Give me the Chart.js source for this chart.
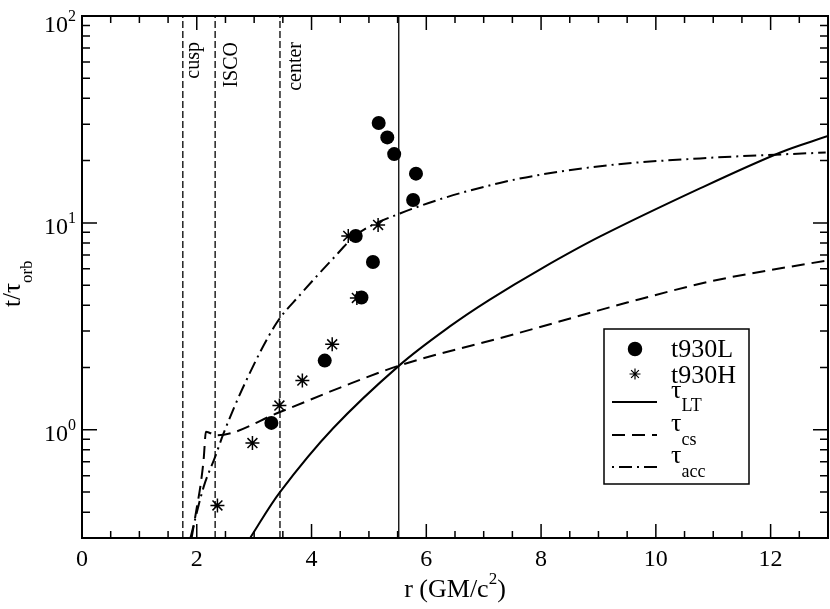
<!DOCTYPE html>
<html>
<head>
<meta charset="utf-8">
<script src="https://cdn.jsdelivr.net/npm/chart.js@4"></script>
<style>
  body { margin: 0; background: #fff; }
  #wrap { width: 830px; height: 609px; }
</style>
</head>
<body>
<div id="wrap"><canvas id="c" width="830" height="609"></canvas></div>
<script>
// r (GM/c^2) and t/tau_orb values
var lowX  = [3.30, 4.23, 4.77, 4.87, 5.07, 5.17, 5.32, 5.44, 5.77, 5.82]
var lowY  = [1.08, 2.16, 8.65, 4.36, 6.47, 30.4, 25.9, 21.5, 12.9, 17.3]
var highX = [2.36, 2.97, 3.44, 3.84, 4.36, 4.64, 4.79, 5.16]
var highY = [0.431, 0.863, 1.31, 1.73, 2.59, 8.65, 4.34, 9.78]

var ltX  = [2.93, 3.45, 4.38, 5.54, 6.41, 7.10, 8.00, 9.03, 10.75, 12.17, 13.0]
var ltY  = [0.30, 0.50, 1.02, 2.06, 3.16, 4.25, 6.00, 8.60, 14.6, 21.9, 26.3]
var csX  = [1.91, 2.00, 2.07, 2.12, 2.16, 2.34, 3.45, 4.50, 5.52, 7.50, 9.50, 11.0, 13.0]
var csY  = [0.30, 0.42, 0.55, 0.72, 0.98, 0.94, 1.22, 1.60, 2.04, 2.88, 4.12, 5.25, 6.60]
var accX = [1.89, 2.12, 2.32, 2.46, 2.84, 3.39, 3.80, 4.38, 4.78, 5.54, 7.28, 9.03, 10.77, 12.96]
var accY = [0.30, 0.53, 0.74, 0.95, 1.68, 3.28, 4.49, 6.75, 8.75, 11.1, 15.6, 18.8, 20.5, 21.9]

// marker radii
var markX     = [1.757, 2.32, 3.45]
var markNames = ['cusp', 'ISCO', 'center']
var rLine     = 5.52

var yMin = 0.3, yMax = 100, xMin = 0, xMax = 13
var xTickLabels = ['0', '2', '4', '6', '8', '10', '12']
var yDecades = [0, 1, 2]

function pts(xs, ys) {
  return xs.map(function (v, i) { return {x: v, y: ys[i]} })
}
function vline(v) {
  return [{x: v, y: yMin}, {x: v, y: yMax}]
}

var serif = '"Liberation Serif", "DejaVu Serif", serif'

// draws a run of text pieces [text, size, baseline shift]
function rich(ctx, parts, x, y) {
  parts.forEach(function (p) {
    ctx.font = p[1] + 'px ' + serif
    ctx.fillText(p[0], x, y + p[2])
    x += ctx.measureText(p[0]).width
  })
  return x
}
function richWidth(ctx, parts) {
  var w = 0
  parts.forEach(function (p) {
    ctx.font = p[1] + 'px ' + serif
    w += ctx.measureText(p[0]).width
  })
  return w
}

var decor = {
  id: 'decor',
  afterDraw: function (chart) {
    var ctx = chart.ctx, a = chart.chartArea
    var xs = chart.scales.x, ys = chart.scales.y
    ctx.save()
    ctx.fillStyle = '#000'
    ctx.strokeStyle = '#000'

    // ticks inside the frame
    ctx.lineWidth = 1.5
    ctx.beginPath()
    for (var v = xMin; v <= xMax + 1e-9; v += 0.5) {
      var px = xs.getPixelForValue(v)
      var len = (v % 2 === 0) ? 14 : 7
      ctx.moveTo(px, a.bottom); ctx.lineTo(px, a.bottom - len)
      ctx.moveTo(px, a.top); ctx.lineTo(px, a.top + len)
    }
    for (var k = -1; k <= 2; k++) {
      for (var m = 1; m <= 9; m++) {
        var val = m * Math.pow(10, k)
        if (val < yMin - 1e-9 || val > yMax + 1e-9) continue
        var py = ys.getPixelForValue(val)
        var l2 = (m === 1) ? 15 : 8
        ctx.moveTo(a.left, py); ctx.lineTo(a.left + l2, py)
        ctx.moveTo(a.right, py); ctx.lineTo(a.right - l2, py)
      }
    }
    ctx.stroke()

    // frame
    ctx.lineWidth = 2
    ctx.strokeRect(a.left, a.top, a.right - a.left, a.bottom - a.top)

    // x tick labels
    ctx.font = '24px ' + serif
    ctx.textAlign = 'center'
    ctx.textBaseline = 'alphabetic'
    xTickLabels.forEach(function (t) {
      ctx.fillText(t, xs.getPixelForValue(parseFloat(t)), 566)
    })

    // y tick labels 10^k
    ctx.textAlign = 'left'
    yDecades.forEach(function (k) {
      var py = ys.getPixelForValue(Math.pow(10, k))
      var base = Math.max(py + 11, 32)
      ctx.font = '24px ' + serif
      var w = ctx.measureText('10').width
      rich(ctx, [['10', 24, 0], [String(k), 16, -11]], 68 - w, base)
    })

    // axis titles
    var xt = [['r (GM/c', 26, 0], ['2', 17, -13], [')', 26, 0]]
    var cx = (a.left + a.right) / 2
    rich(ctx, xt, cx - richWidth(ctx, xt) / 2, 597)

    ctx.save()
    ctx.translate(20, 307)
    ctx.rotate(-Math.PI / 2)
    rich(ctx, [['t/\u03c4', 25, 0], ['orb', 17, 12]], 0, 0)
    ctx.restore()

    // radius marker labels
    var offs = [16, 22, 21]
    ctx.font = '20px ' + serif
    markX.forEach(function (v, i) {
      ctx.save()
      ctx.translate(xs.getPixelForValue(v) + offs[i], 42)
      ctx.rotate(-Math.PI / 2)
      ctx.textAlign = 'right'
      ctx.fillText(markNames[i], 0, 0)
      ctx.restore()
    })

    // legend box
    ctx.textAlign = 'left'
    ctx.lineWidth = 1.5
    ctx.strokeRect(604, 329, 145, 155)
    Chart.helpers.drawPoint(ctx, {pointStyle: 'circle', radius: 6.5, borderWidth: 1}, 635, 349)
    ctx.lineWidth = 1.2
    Chart.helpers.drawPoint(ctx, {pointStyle: 'star', radius: 5.5, borderWidth: 1.2}, 635, 374)
    ctx.lineWidth = 2
    var segs = [[402, []], [435, [13, 7]], [467, [2, 5, 13, 5]]]
    segs.forEach(function (s) {
      ctx.setLineDash(s[1])
      ctx.beginPath(); ctx.moveTo(612, s[0]); ctx.lineTo(657, s[0]); ctx.stroke()
    })
    ctx.setLineDash([])
    rich(ctx, [['t930L', 26, 0]], 671, 357)
    rich(ctx, [['t930H', 26, 0]], 671, 383)
    rich(ctx, [['\u03c4', 26, 0], ['LT', 18, 13]], 671, 398)
    rich(ctx, [['\u03c4', 26, 0], ['cs', 18, 14]], 671, 431)
    rich(ctx, [['\u03c4', 26, 0], ['acc', 18, 14]], 671, 463)

    ctx.restore()
  }
}

var lineBase = {showLine: true, pointRadius: 0, borderColor: '#000', fill: false}

var chart = new Chart(document.getElementById('c').getContext('2d'), {
  type: 'scatter',
  data: {
    datasets: [
      Object.assign({label: 'cusp', data: vline(markX[0]), borderWidth: 1.3, borderDash: [7, 3]}, lineBase),
      Object.assign({label: 'ISCO', data: vline(markX[1]), borderWidth: 1.3, borderDash: [7, 3]}, lineBase),
      Object.assign({label: 'center', data: vline(markX[2]), borderWidth: 1.3, borderDash: [7, 3]}, lineBase),
      Object.assign({label: 'r', data: vline(rLine), borderWidth: 1.3}, lineBase),
      Object.assign({label: 'tau_LT', data: pts(ltX, ltY), borderWidth: 2, tension: 0.35}, lineBase),
      Object.assign({label: 'tau_cs', data: pts(csX, csY), borderWidth: 2, borderDash: [13, 7], cubicInterpolationMode: 'monotone'}, lineBase),
      Object.assign({label: 'tau_acc', data: pts(accX, accY), borderWidth: 2, borderDash: [13, 5, 2, 5], cubicInterpolationMode: 'monotone'}, lineBase),
      {
        label: 't930L', data: pts(lowX, lowY), showLine: false,
        pointStyle: 'circle', pointRadius: 7, backgroundColor: '#000', borderColor: '#000', borderWidth: 0
      },
      {
        label: 't930H', data: pts(highX, highY), showLine: false,
        pointStyle: 'star', pointRadius: 7, borderColor: '#000', borderWidth: 1.5
      }
    ]
  },
  options: {
    responsive: false,
    animation: false,
    layout: {autoPadding: false, padding: {left: 82, right: 2, top: 16, bottom: 71}},
    plugins: {legend: {display: false}, tooltip: {enabled: false}},
    scales: {
      x: {type: 'linear', min: xMin, max: xMax, display: false},
      y: {type: 'logarithmic', min: yMin, max: yMax, display: false}
    }
  },
  plugins: [decor]
})
</script>
</body>
</html>
